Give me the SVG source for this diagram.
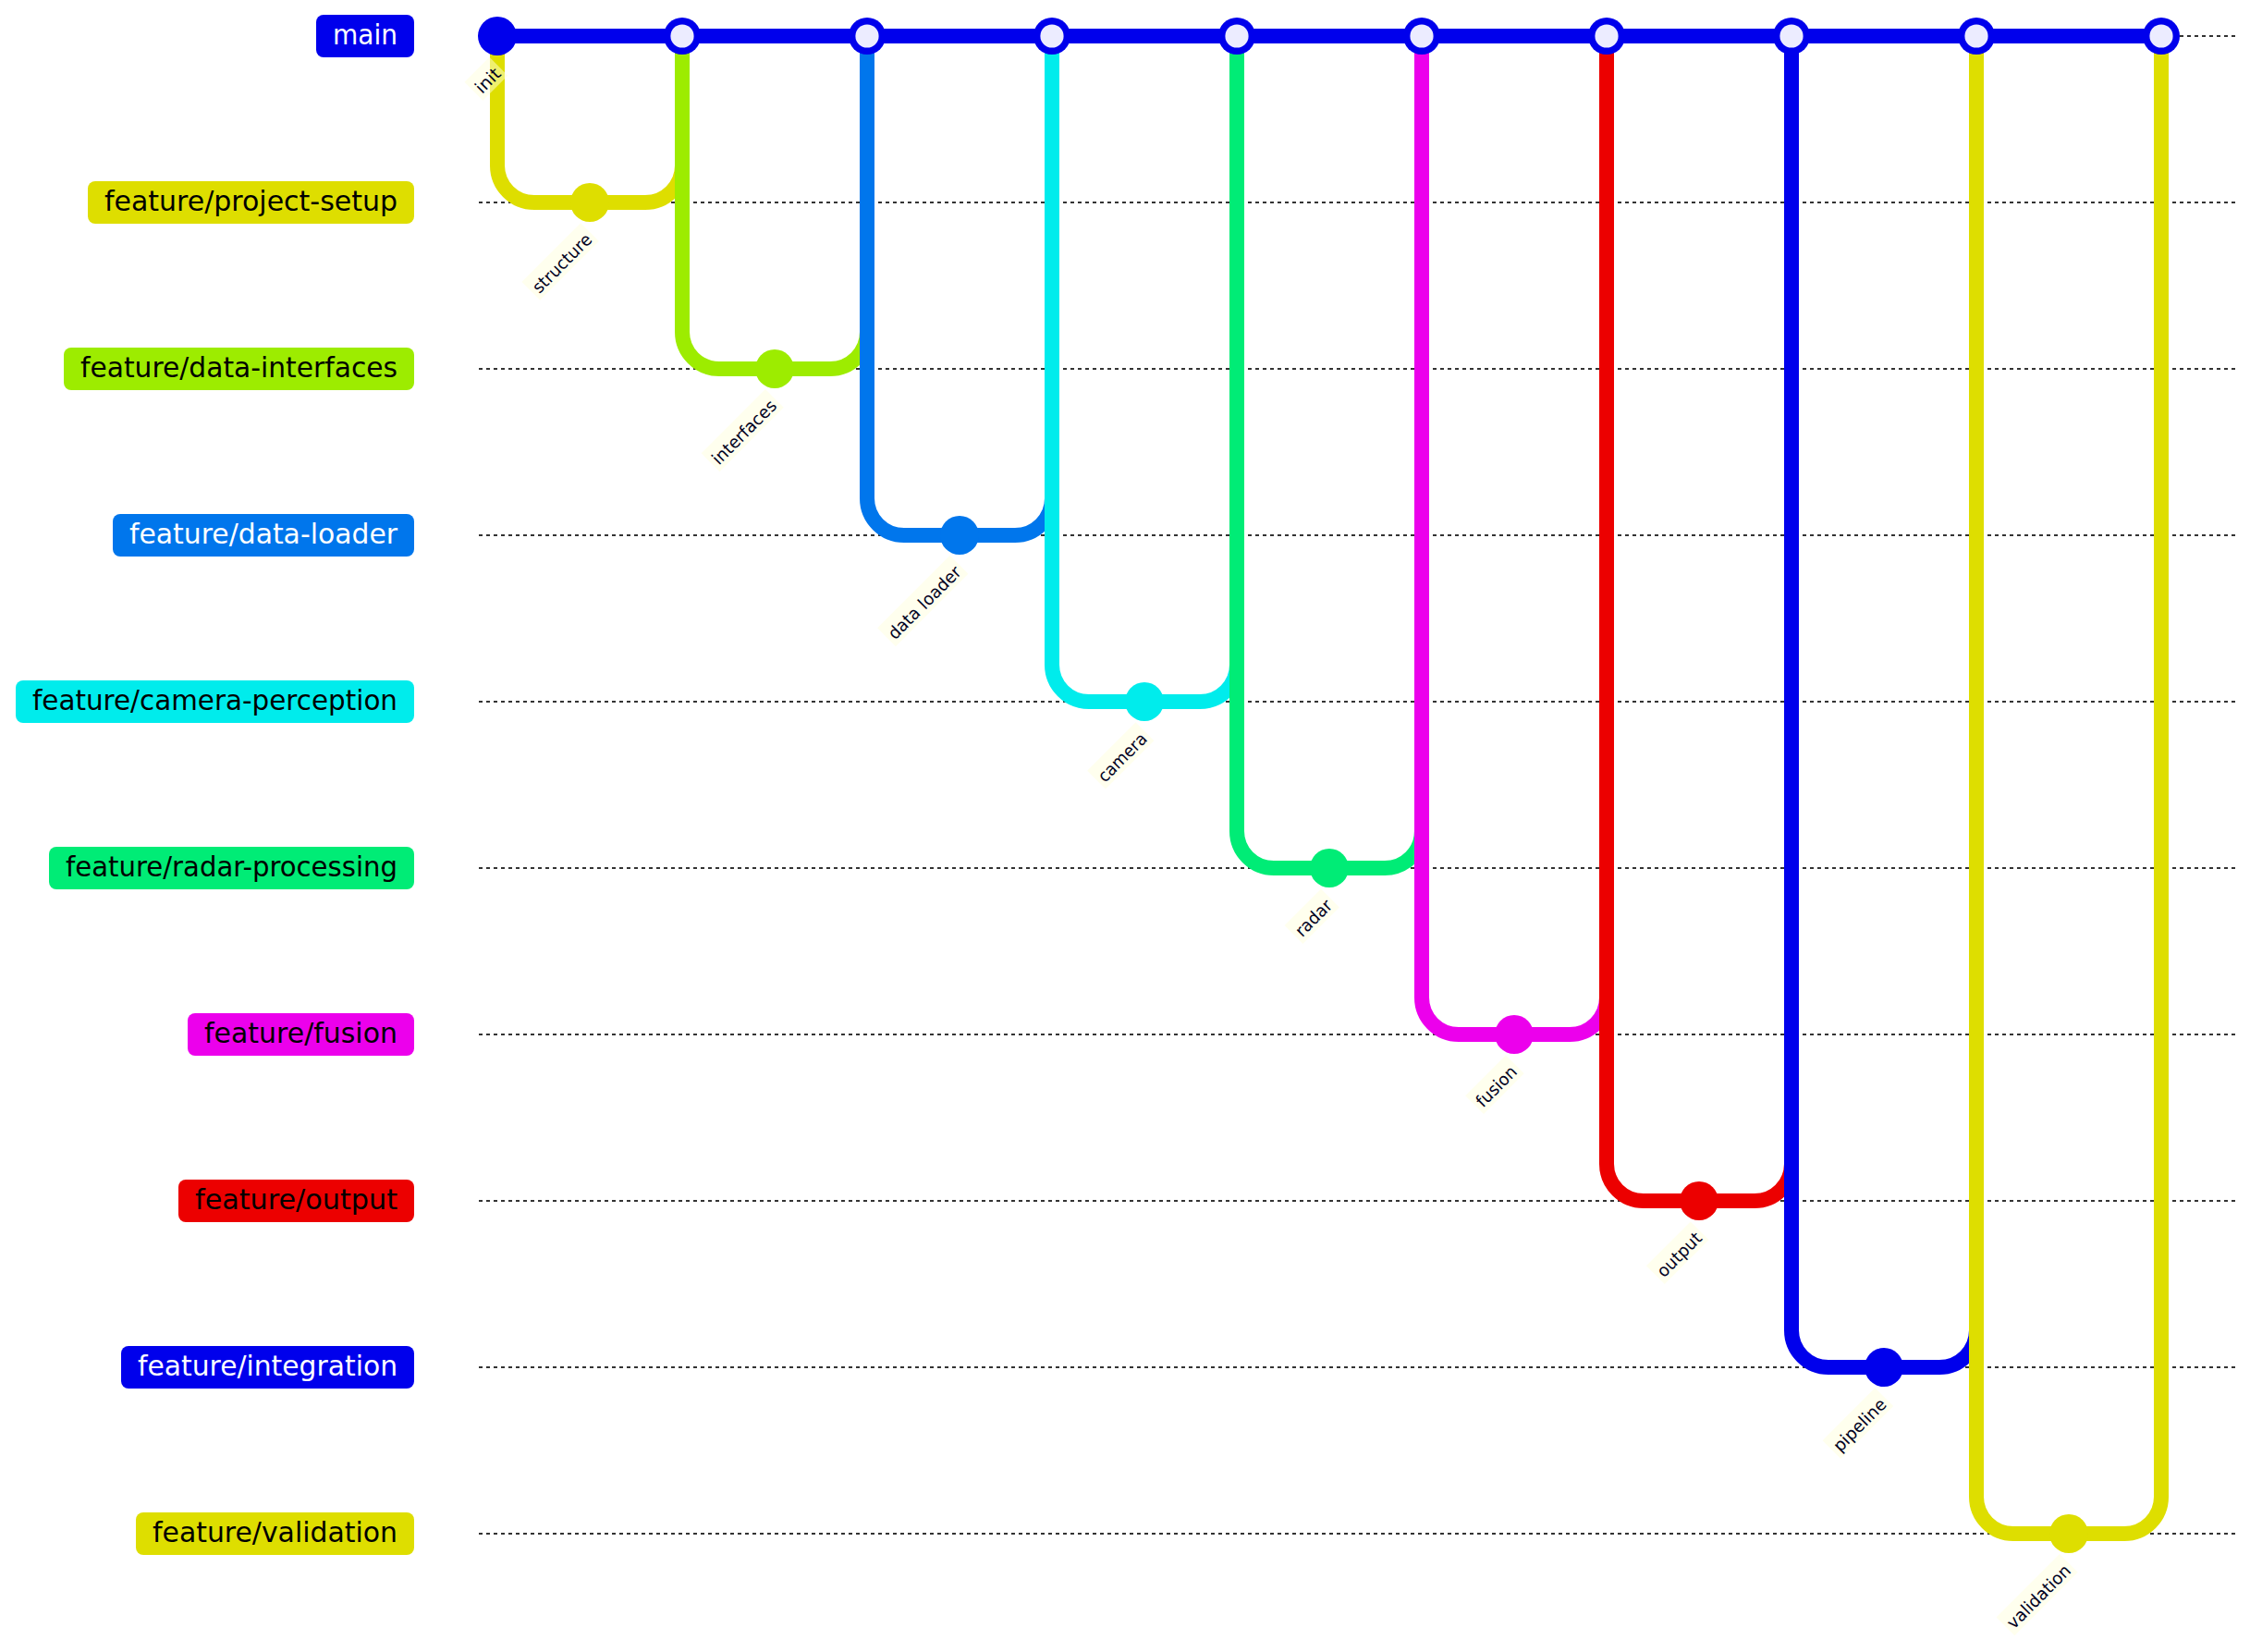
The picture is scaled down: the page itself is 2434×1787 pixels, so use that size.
<svg xmlns="http://www.w3.org/2000/svg" width="2434" height="1787" viewBox="0 0 2434 1787">
<style>
.bg{fill:#ffffff}
.branch{stroke:#333333;stroke-width:1;stroke-dasharray:2;fill:none}
.arrow{stroke-width:8;stroke-linecap:round;fill:none}
.a0{stroke:#0000EC}.a1{stroke:#DEDE00}.a2{stroke:#9DEC00}.a3{stroke:#0076EC}.a4{stroke:#00ECEC}.a5{stroke:#00EC76}.a6{stroke:#EC00EC}.a7{stroke:#EC0000}
.f0{fill:#0000EC}.f1{fill:#DEDE00}.f2{fill:#9DEC00}.f3{fill:#0076EC}.f4{fill:#00ECEC}.f5{fill:#00EC76}.f6{fill:#EC00EC}.f7{fill:#EC0000}
.mergein{fill:#ECECFF}
.blabel{font-family:"DejaVu Sans","Liberation Sans",sans-serif;font-size:15px;text-anchor:middle}
.lw{fill:#ffffff}.lb{fill:#000000}
.clbg{fill:#ffffde;opacity:0.5}
.cl{font-family:"DejaVu Sans","Liberation Sans",sans-serif;font-size:9.2px;fill:#000021}
</style>
<rect class="bg" x="0" y="0" width="2434" height="1787"/>
<g transform="translate(538,39) scale(2)">
<g id="branch-lines">
<line class="branch" x1="-10" y1="0" x2="940" y2="0"/>
<line class="branch" x1="-10" y1="90" x2="940" y2="90"/>
<line class="branch" x1="-10" y1="180" x2="940" y2="180"/>
<line class="branch" x1="-10" y1="270" x2="940" y2="270"/>
<line class="branch" x1="-10" y1="360" x2="940" y2="360"/>
<line class="branch" x1="-10" y1="450" x2="940" y2="450"/>
<line class="branch" x1="-10" y1="540" x2="940" y2="540"/>
<line class="branch" x1="-10" y1="630" x2="940" y2="630"/>
<line class="branch" x1="-10" y1="720" x2="940" y2="720"/>
<line class="branch" x1="-10" y1="810" x2="940" y2="810"/>
</g>
<g id="branch-labels">
<g id="label-main"><rect class="f0" x="-98" y="-11.5" width="53" height="23" rx="4"/><text class="blabel lw" x="-71.5" y="4.4" textLength="35" lengthAdjust="spacingAndGlyphs">main</text></g>
<g id="label-project-setup"><rect class="f1" x="-221.5" y="78.5" width="176.5" height="23" rx="4"/><text class="blabel lb" x="-133.25" y="94.4" textLength="158.5" lengthAdjust="spacingAndGlyphs">feature/project-setup</text></g>
<g id="label-data-interfaces"><rect class="f2" x="-234.5" y="168.5" width="189.5" height="23" rx="4"/><text class="blabel lb" x="-139.75" y="184.4" textLength="171.5" lengthAdjust="spacingAndGlyphs">feature/data-interfaces</text></g>
<g id="label-data-loader"><rect class="f3" x="-208" y="258.5" width="163" height="23" rx="4"/><text class="blabel lw" x="-126.5" y="274.4" textLength="145" lengthAdjust="spacingAndGlyphs">feature/data-loader</text></g>
<g id="label-camera-perception"><rect class="f4" x="-260.5" y="348.5" width="215.5" height="23" rx="4"/><text class="blabel lb" x="-152.75" y="364.4" textLength="197.5" lengthAdjust="spacingAndGlyphs">feature/camera-perception</text></g>
<g id="label-radar-processing"><rect class="f5" x="-242.5" y="438.5" width="197.5" height="23" rx="4"/><text class="blabel lb" x="-143.75" y="454.4" textLength="179.5" lengthAdjust="spacingAndGlyphs">feature/radar-processing</text></g>
<g id="label-fusion"><rect class="f6" x="-167.5" y="528.5" width="122.5" height="23" rx="4"/><text class="blabel lb" x="-106.25" y="544.4" textLength="104.5" lengthAdjust="spacingAndGlyphs">feature/fusion</text></g>
<g id="label-output"><rect class="f7" x="-172.5" y="618.5" width="127.5" height="23" rx="4"/><text class="blabel lb" x="-108.75" y="634.4" textLength="109.5" lengthAdjust="spacingAndGlyphs">feature/output</text></g>
<g id="label-integration"><rect class="f0" x="-203.5" y="708.5" width="158.5" height="23" rx="4"/><text class="blabel lw" x="-124.25" y="724.4" textLength="140.5" lengthAdjust="spacingAndGlyphs">feature/integration</text></g>
<g id="label-validation"><rect class="f1" x="-195.5" y="798.5" width="150.5" height="23" rx="4"/><text class="blabel lb" x="-120.25" y="814.4" textLength="132.5" lengthAdjust="spacingAndGlyphs">feature/validation</text></g>
</g>
<g id="connectors">
<path class="arrow a1" d="M0 0 L0 70 A20 20 0 0 0 20 90 L50 90"/>
<path class="arrow a0" d="M0 0 L100 0"/>
<path class="arrow a1" d="M50 90 L80 90 A20 20 0 0 0 100 70 L100 0"/>
<path class="arrow a2" d="M100 0 L100 160 A20 20 0 0 0 120 180 L150 180"/>
<path class="arrow a0" d="M100 0 L200 0"/>
<path class="arrow a2" d="M150 180 L180 180 A20 20 0 0 0 200 160 L200 0"/>
<path class="arrow a3" d="M200 0 L200 250 A20 20 0 0 0 220 270 L250 270"/>
<path class="arrow a0" d="M200 0 L300 0"/>
<path class="arrow a3" d="M250 270 L280 270 A20 20 0 0 0 300 250 L300 0"/>
<path class="arrow a4" d="M300 0 L300 340 A20 20 0 0 0 320 360 L350 360"/>
<path class="arrow a0" d="M300 0 L400 0"/>
<path class="arrow a4" d="M350 360 L380 360 A20 20 0 0 0 400 340 L400 0"/>
<path class="arrow a5" d="M400 0 L400 430 A20 20 0 0 0 420 450 L450 450"/>
<path class="arrow a0" d="M400 0 L500 0"/>
<path class="arrow a5" d="M450 450 L480 450 A20 20 0 0 0 500 430 L500 0"/>
<path class="arrow a6" d="M500 0 L500 520 A20 20 0 0 0 520 540 L550 540"/>
<path class="arrow a0" d="M500 0 L600 0"/>
<path class="arrow a6" d="M550 540 L580 540 A20 20 0 0 0 600 520 L600 0"/>
<path class="arrow a7" d="M600 0 L600 610 A20 20 0 0 0 620 630 L650 630"/>
<path class="arrow a0" d="M600 0 L700 0"/>
<path class="arrow a7" d="M650 630 L680 630 A20 20 0 0 0 700 610 L700 0"/>
<path class="arrow a0" d="M700 0 L700 700 A20 20 0 0 0 720 720 L750 720"/>
<path class="arrow a0" d="M700 0 L800 0"/>
<path class="arrow a0" d="M750 720 L780 720 A20 20 0 0 0 800 700 L800 0"/>
<path class="arrow a1" d="M800 0 L800 790 A20 20 0 0 0 820 810 L850 810"/>
<path class="arrow a0" d="M800 0 L900 0"/>
<path class="arrow a1" d="M850 810 L880 810 A20 20 0 0 0 900 790 L900 0"/>
</g>
<g id="commits">
<g id="commit-init"><circle class="f0" cx="0" cy="0" r="10.5"/></g>
<g id="commit-structure"><circle class="f1" cx="50" cy="90" r="10.5"/></g>
<g id="commit-merge-1"><circle class="f0" cx="100" cy="0" r="10"/><circle class="mergein" cx="100" cy="0" r="6.3"/></g>
<g id="commit-interfaces"><circle class="f2" cx="150" cy="180" r="10.5"/></g>
<g id="commit-merge-2"><circle class="f0" cx="200" cy="0" r="10"/><circle class="mergein" cx="200" cy="0" r="6.3"/></g>
<g id="commit-data-loader"><circle class="f3" cx="250" cy="270" r="10.5"/></g>
<g id="commit-merge-3"><circle class="f0" cx="300" cy="0" r="10"/><circle class="mergein" cx="300" cy="0" r="6.3"/></g>
<g id="commit-camera"><circle class="f4" cx="350" cy="360" r="10.5"/></g>
<g id="commit-merge-4"><circle class="f0" cx="400" cy="0" r="10"/><circle class="mergein" cx="400" cy="0" r="6.3"/></g>
<g id="commit-radar"><circle class="f5" cx="450" cy="450" r="10.5"/></g>
<g id="commit-merge-5"><circle class="f0" cx="500" cy="0" r="10"/><circle class="mergein" cx="500" cy="0" r="6.3"/></g>
<g id="commit-fusion"><circle class="f6" cx="550" cy="540" r="10.5"/></g>
<g id="commit-merge-6"><circle class="f0" cx="600" cy="0" r="10"/><circle class="mergein" cx="600" cy="0" r="6.3"/></g>
<g id="commit-output"><circle class="f7" cx="650" cy="630" r="10.5"/></g>
<g id="commit-merge-7"><circle class="f0" cx="700" cy="0" r="10"/><circle class="mergein" cx="700" cy="0" r="6.3"/></g>
<g id="commit-pipeline"><circle class="f0" cx="750" cy="720" r="10.5"/></g>
<g id="commit-merge-8"><circle class="f0" cx="800" cy="0" r="10"/><circle class="mergein" cx="800" cy="0" r="6.3"/></g>
<g id="commit-validation"><circle class="f1" cx="850" cy="810" r="10.5"/></g>
<g id="commit-merge-9"><circle class="f0" cx="900" cy="0" r="10"/><circle class="mergein" cx="900" cy="0" r="6.3"/></g>
</g>
<g id="commit-labels">
<g transform="translate(-20.54,8.63) rotate(-45 0 0)"><rect class="clbg" x="-9.55" y="13.5" width="19.1" height="14"/><text class="cl" x="-7.55" y="25" textLength="15.1" lengthAdjust="spacingAndGlyphs">init</text></g>
<g transform="translate(-30.42,17.47) rotate(-45 50 90)"><rect class="clbg" x="27.45" y="103.5" width="45.1" height="14"/><text class="cl" x="29.45" y="115" textLength="41.1" lengthAdjust="spacingAndGlyphs">structure</text></g>
<g transform="translate(-31.9,18.8) rotate(-45 150 180)"><rect class="clbg" x="125.5" y="193.5" width="49" height="14"/><text class="cl" x="127.5" y="205" textLength="45" lengthAdjust="spacingAndGlyphs">interfaces</text></g>
<g transform="translate(-34.37,21.01) rotate(-45 250 270)"><rect class="clbg" x="222.25" y="283.5" width="55.5" height="14"/><text class="cl" x="224.25" y="295" textLength="51.5" lengthAdjust="spacingAndGlyphs">data loader</text></g>
<g transform="translate(-27.38,14.75) rotate(-45 350 360)"><rect class="clbg" x="331.45" y="373.5" width="37.1" height="14"/><text class="cl" x="333.45" y="385" textLength="33.1" lengthAdjust="spacingAndGlyphs">camera</text></g>
<g transform="translate(-23.88,11.63) rotate(-45 450 450)"><rect class="clbg" x="436.05" y="463.5" width="27.9" height="14"/><text class="cl" x="438.05" y="475" textLength="23.9" lengthAdjust="spacingAndGlyphs">radar</text></g>
<g transform="translate(-25.02,12.65) rotate(-45 550 540)"><rect class="clbg" x="534.55" y="553.5" width="30.9" height="14"/><text class="cl" x="536.55" y="565" textLength="26.9" lengthAdjust="spacingAndGlyphs">fusion</text></g>
<g transform="translate(-26.12,13.63) rotate(-45 650 630)"><rect class="clbg" x="633.1" y="643.5" width="33.8" height="14"/><text class="cl" x="635.1" y="655" textLength="29.8" lengthAdjust="spacingAndGlyphs">output</text></g>
<g transform="translate(-28.56,15.81) rotate(-45 750 720)"><rect class="clbg" x="729.9" y="733.5" width="40.2" height="14"/><text class="cl" x="731.9" y="745" textLength="36.2" lengthAdjust="spacingAndGlyphs">pipeline</text></g>
<g transform="translate(-31.67,18.6) rotate(-45 850 810)"><rect class="clbg" x="825.8" y="823.5" width="48.4" height="14"/><text class="cl" x="827.8" y="835" textLength="44.4" lengthAdjust="spacingAndGlyphs">validation</text></g>
</g>
</g>
</svg>
